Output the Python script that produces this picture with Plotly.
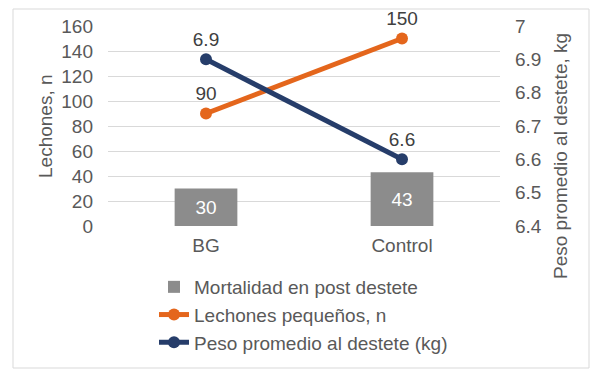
import plotly.graph_objects as go

categories = ["BG", "Control"]
mortalidad = [30, 43]
lechones_pequenos = [90, 150]
peso_promedio = [6.9, 6.6]
left_ticks = [0, 20, 40, 60, 80, 100, 120, 140, 160]
right_ticks = [6.4, 6.5, 6.6, 6.7, 6.8, 6.9, 7.0]
right_tick_text = ["6.4", "6.5", "6.6", "6.7", "6.8", "6.9", "7"]

FONT = "Arial, Liberation Sans, sans-serif"
TXT = "#595959"
FS = 19

# page body has an 8px margin; layout coordinates below are figure coords
OFF = 8
PL, PR, PT, PB = 108 - OFF, 500 - OFF, 26 - OFF, 226 - OFF
PW, PH = PR - PL, PB - PT


def px(xw):
    return (xw - OFF - PL) / PW


def py(yw):
    return (PB - (yw - OFF)) / PH


fig = go.Figure()
fig.add_trace(go.Bar(
    x=categories, y=mortalidad, name="Mortalidad en post destete",
    marker=dict(color="#8C8C8C", line=dict(width=0)), width=0.32,
    text=[str(v) for v in mortalidad], textposition="inside", insidetextanchor="middle",
    textfont=dict(color="white", size=FS, family=FONT), cliponaxis=False,
    legendgroup="a",
))
fig.add_trace(go.Scatter(
    x=categories, y=lechones_pequenos, name="Lechones pequeños, n",
    mode="lines+markers+text", line=dict(color="#E4661C", width=5),
    marker=dict(size=12, color="#E4661C"),
    text=[str(v) for v in lechones_pequenos], textposition="top center",
    textfont=dict(color="#404040", size=FS, family=FONT), cliponaxis=False,
    legendgroup="b",
))
fig.add_trace(go.Scatter(
    x=categories, y=peso_promedio, name="Peso promedio al destete (kg)",
    mode="lines+markers+text", line=dict(color="#263D6A", width=5),
    marker=dict(size=12, color="#263D6A"),
    text=[f"{v:.1f}" for v in peso_promedio], textposition="top center",
    textfont=dict(color="#404040", size=FS, family=FONT), cliponaxis=False,
    yaxis="y2", legendgroup="c",
))

fig.update_layout(
    width=607, height=378,
    margin=dict(l=PL, r=607 - PR, t=PT, b=378 - PB, autoexpand=False),
    paper_bgcolor="white", plot_bgcolor="white",
    font=dict(family=FONT, size=FS, color=TXT),
    showlegend=True,
    legend=dict(x=px(154), y=py(268), xanchor="left", yanchor="top",
                orientation="v", traceorder="grouped", tracegroupgap=0,
                font=dict(size=FS, color=TXT, family=FONT), bgcolor="rgba(0,0,0,0)"),
    xaxis=dict(showgrid=False, showline=False, ticks="", tickfont=dict(size=FS, color=TXT),
               ticklabelstandoff=6, automargin=False),
    yaxis=dict(range=[0, 160], tickvals=left_ticks, showgrid=True, gridcolor="#D9D9D9",
               gridwidth=1, zeroline=False, showline=False, ticks="",
               tickfont=dict(size=FS, color=TXT), ticklabelstandoff=14, automargin=False),
    yaxis2=dict(range=[6.4, 7.0], tickvals=right_ticks, ticktext=right_tick_text,
                overlaying="y", side="right", showgrid=False, zeroline=False, showline=False,
                ticks="", tickfont=dict(size=FS, color=TXT), ticklabelstandoff=14,
                automargin=False),
    annotations=[
        dict(text="Lechones, n", xref="paper", yref="paper", x=px(45), y=py(126),
             xanchor="center", yanchor="middle", textangle=-90, showarrow=False,
             font=dict(size=FS, color=TXT, family=FONT)),
        dict(text="Peso promedio al destete, kg", xref="paper", yref="paper",
             x=px(560), y=py(156), xanchor="center", yanchor="middle", textangle=-90,
             showarrow=False, font=dict(size=FS, color=TXT, family=FONT)),
    ],
    shapes=[dict(type="rect", xref="paper", yref="paper",
                 x0=px(13), x1=px(589), y0=py(368), y1=py(9),
                 line=dict(color="#D9D9D9", width=1), fillcolor="rgba(0,0,0,0)", layer="below")],
)

fig.write_html("out.html")
